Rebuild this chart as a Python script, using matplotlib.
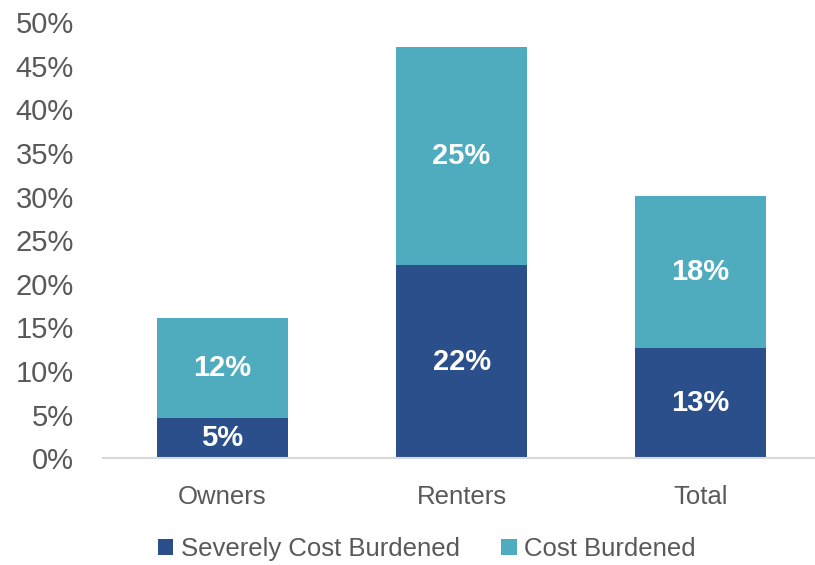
import matplotlib.pyplot as plt
from matplotlib.ticker import PercentFormatter

plt.rcParams['font.family'] = ['Liberation Sans', 'DejaVu Sans']

# Datos (fracciones)
categorias = ['Owners', 'Renters', 'Total']
severo = [0.046, 0.221, 0.126]
carga = [0.115, 0.250, 0.175]
etiq_severo = ['5%', '22%', '13%']
etiq_carga = ['12%', '25%', '18%']

col_severo = '#2B4F8A'
col_carga = '#4FACBF'
gris = '#595959'

fig = plt.figure(figsize=(8.15, 5.65), dpi=100)
ax = fig.add_axes([0.1264, 0.189, 0.88, 0.772])

x = range(len(categorias))
ancho = 0.55
ax.bar(x, severo, ancho, color=col_severo, label='Severely Cost Burdened')
ax.bar(x, carga, ancho, bottom=severo, color=col_carga, label='Cost Burdened')

# Etiquetas centradas en cada segmento
for i in x:
    ax.text(i, severo[i] / 2, etiq_severo[i], ha='center', va='center',
            color='white', fontsize=21, fontweight='bold')
    ax.text(i, severo[i] + carga[i] / 2, etiq_carga[i], ha='center', va='center',
            color='white', fontsize=21, fontweight='bold')

ax.set_xlim(-0.5, 2.5)
ax.set_ylim(0, 0.5)
ax.set_yticks([i * 0.05 for i in range(11)])
ax.yaxis.set_major_formatter(PercentFormatter(1.0, decimals=0))
ax.set_xticks(list(x))
ax.set_xticklabels(categorias)

ax.tick_params(axis='y', length=0, labelsize=21, labelcolor=gris, pad=21)
ax.tick_params(axis='x', length=0, labelsize=18.5, labelcolor=gris, pad=19)

for s in ['top', 'right', 'left']:
    ax.spines[s].set_visible(False)
ax.spines['bottom'].set_color('#D9D9D9')
ax.spines['bottom'].set_linewidth(1.5)

leg = fig.legend(loc='center', bbox_to_anchor=(0.524, 0.028), ncol=2, frameon=False,
                 fontsize=18.5, handlelength=0.6, handleheight=0.6, handletextpad=0.3,
                 columnspacing=1.6)
for t in leg.get_texts():
    t.set_color(gris)

fig.savefig('out.png', dpi=100)
